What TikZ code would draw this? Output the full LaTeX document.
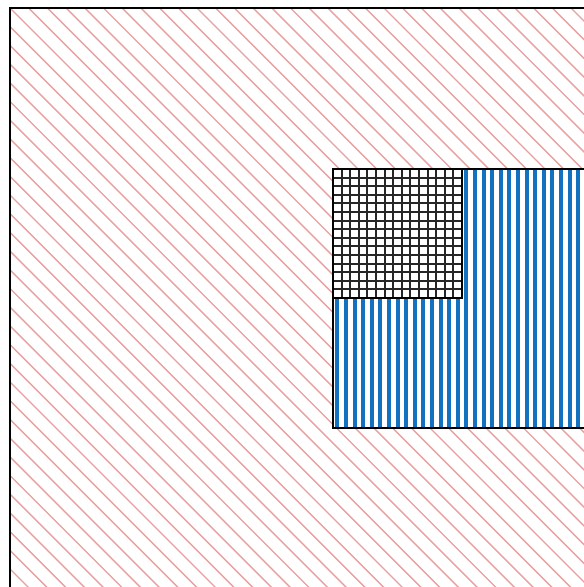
\documentclass[tikz,border=0pt]{standalone}
\definecolor{hatchred}{RGB}{232,160,160}
\definecolor{stripeblue}{RGB}{18,114,192}
\tikzset{
  redline/.style={draw=hatchred,line width=1.4pt},
  blueline/.style={draw=stripeblue,line width=3.6pt},
  gridline/.style={draw=black!85,line width=1.8pt},
  frame/.style={draw=black,line width=1.6pt}
}
\begin{document}
\begin{tikzpicture}[x=1pt,y=-1pt]
\useasboundingbox (0,0) rectangle (584,587);
\clip (0,0) rectangle (584,587);
\fill[white] (0,0) rectangle (584,587);
% outer area: red diagonal hatching
\begin{scope}
\clip (10,8) rectangle (620,620);
\foreach \k in {-34,...,34} {
  \draw[redline] ({10+18.7*\k},8) -- ({10+18.7*\k+620},628);
}
\end{scope}
\draw[frame] (10,8) rectangle (620,620);
% inner rectangle with blue stripes
\fill[white] (333,169) rectangle (620,428);
\begin{scope}
\clip (333,169) rectangle (620,428);
\foreach \k in {0,...,30} {
  \pgfmathsetmacro{\bx}{round(337.3+8.6*\k)}
  \draw[blueline] (\bx,169) -- (\bx,428);
}
\end{scope}
\draw[frame] (333,169) rectangle (620,428);
% grid square
\fill[white] (333,169) rectangle (462,298);
\foreach \k in {1,...,14} {
  \pgfmathsetmacro{\gx}{round(333+8.6*\k)}
  \pgfmathsetmacro{\gy}{round(169+8.6*\k)}
  \draw[gridline] (\gx,169) -- (\gx,298);
  \draw[gridline] (333,\gy) -- (462,\gy);
}
\draw[frame] (333,169) rectangle (462,298);
\end{tikzpicture}
\end{document}
